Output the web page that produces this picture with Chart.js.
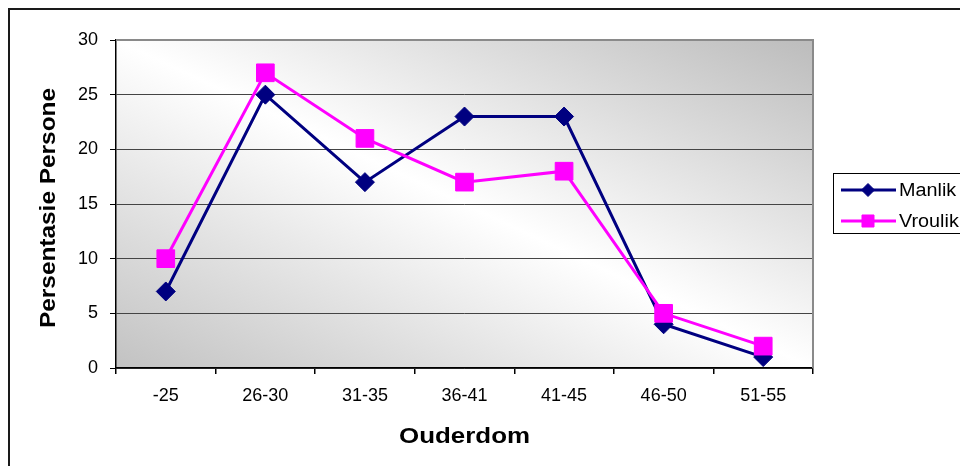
<!DOCTYPE html>
<html>
<head>
<meta charset="utf-8">
<script src="https://cdn.jsdelivr.net/npm/chart.js@4.4.1/dist/chart.umd.min.js"></script>
<style>
  html, body { margin: 0; padding: 0; background: #ffffff; }
  #wrap { width: 960px; height: 466px; position: relative; }
</style>
</head>
<body>
<div id="wrap"><canvas id="c" width="960" height="466"></canvas></div>
<script>
// Age groups and percentage of persons per group
const categories = ['-25', '26-30', '31-35', '36-41', '41-45', '46-50', '51-55'];
const manlik = [7, 25, 17, 23, 23, 4, 1];
const vroulik = [10, 27, 21, 17, 18, 5, 2];
const yTicks = [0, 5, 10, 15, 20, 25, 30];
const seriesNames = ['Manlik', 'Vroulik'];
const xTitle = 'Ouderdom';
const yTitle = 'Persentasie Persone';

const FONT = '"Liberation Sans", Arial, sans-serif';

// Plot background: diagonal grey-white-grey wash
const plotBackground = {
  id: 'plotBackground',
  beforeDraw(chart) {
    const { ctx, chartArea: a } = chart;
    const w = a.right - a.left, h = a.bottom - a.top;
    const cx = a.left + w / 2, cy = a.top + h / 2;
    const len = Math.hypot(w, h);
    const ux = h / len, uy = -w / len;
    const half = (w / 2) * ux + (-h / 2) * uy;
    const g = ctx.createLinearGradient(cx - half * ux, cy - half * uy, cx + half * ux, cy + half * uy);
    g.addColorStop(0, '#c2c2c2');
    g.addColorStop(0.5, '#ffffff');
    g.addColorStop(1, '#bcbcbc');
    ctx.save();
    ctx.fillStyle = g;
    ctx.fillRect(a.left, a.top, w, h);
    ctx.restore();
  },
  beforeDatasetsDraw(chart) {
    const { ctx, chartArea: a } = chart;
    ctx.save();
    ctx.strokeStyle = '#8a8a8a';
    ctx.lineWidth = 2;
    ctx.beginPath();
    ctx.moveTo(a.left, a.top);
    ctx.lineTo(a.right, a.top);
    ctx.lineTo(a.right, a.bottom);
    ctx.stroke();
    ctx.restore();
  }
};

// Axis titles, legend and outer frame
function stretchedText(ctx, text, x, y, width) {
  const m = ctx.measureText(text).width;
  ctx.save();
  ctx.translate(x, y);
  ctx.scale(width / m, 1);
  ctx.fillText(text, 0, 0);
  ctx.restore();
}

const decorations = {
  id: 'decorations',
  afterDraw(chart) {
    const { ctx, chartArea: a } = chart;
    ctx.save();
    ctx.fillStyle = '#000';
    ctx.font = 'bold 22px ' + FONT;
    ctx.textAlign = 'center';
    ctx.textBaseline = 'alphabetic';
    stretchedText(ctx, xTitle, (a.left + a.right) / 2, 443, 131);

    ctx.save();
    ctx.translate(55, (a.top + a.bottom) / 2 + 4);
    ctx.rotate(-Math.PI / 2);
    stretchedText(ctx, yTitle, 0, 0, 240);
    ctx.restore();

    // legend
    ctx.strokeStyle = '#000';
    ctx.lineWidth = 1;
    ctx.strokeRect(833.5, 173.5, 200, 60);
    ctx.font = '18px ' + FONT;
    ctx.textAlign = 'left';
    ctx.textBaseline = 'middle';
    const rows = [190, 221];
    chart.data.datasets.forEach((ds, i) => {
      const y = rows[i];
      ctx.strokeStyle = ds.borderColor;
      ctx.lineWidth = 3;
      ctx.beginPath();
      ctx.moveTo(841, y);
      ctx.lineTo(896, y);
      ctx.stroke();
      ctx.fillStyle = ds.backgroundColor;
      ctx.strokeStyle = ds.backgroundColor;
      ctx.lineWidth = 1;
      Chart.helpers.drawPoint(ctx, {
        pointStyle: ds.pointStyle,
        radius: ds.pointStyle === 'rect' ? 8.5 : 6.5,
        rotation: 0,
        borderWidth: 1
      }, 868, y);
      ctx.fillStyle = '#000';
      stretchedText(ctx, ds.label, 899, y + 1, ctx.measureText(ds.label).width * 1.1);
    });

    // outer frame
    ctx.strokeStyle = '#1a1a1a';
    ctx.lineWidth = 2;
    ctx.strokeRect(9, 9, 1000, 500);
    ctx.restore();
  }
};

new Chart(document.getElementById('c'), {
  type: 'line',
  data: {
    labels: categories,
    datasets: [
      {
        label: seriesNames[0],
        data: manlik,
        borderColor: '#000080',
        backgroundColor: '#000080',
        borderWidth: 3,
        pointStyle: 'rectRot',
        pointRadius: 9.5,
        pointBorderWidth: 1,
        pointBorderColor: '#000080',
        pointBackgroundColor: '#000080',
        tension: 0,
        order: 1
      },
      {
        label: seriesNames[1],
        data: vroulik,
        borderColor: '#ff00ff',
        backgroundColor: '#ff00ff',
        borderWidth: 3,
        pointStyle: 'rect',
        pointRadius: 12.5,
        pointBorderWidth: 1,
        pointBorderColor: '#ff00ff',
        pointBackgroundColor: '#ff00ff',
        tension: 0,
        order: 0
      }
    ]
  },
  options: {
    responsive: false,
    animation: false,
    devicePixelRatio: 1,
    layout: { padding: { left: 0, top: 40, right: 147, bottom: 0 } },
    plugins: {
      legend: { display: false },
      tooltip: { enabled: false },
      title: { display: false }
    },
    scales: {
      x: {
        type: 'category',
        offset: true,
        afterFit(scale) { scale.height = 98; },
        grid: {
          offset: true,
          drawOnChartArea: false,
          drawTicks: true,
          tickLength: 6,
          tickColor: '#000',
          lineWidth: 1.5
        },
        border: { display: true, color: '#000', width: 1.5 },
        ticks: {
          color: '#000',
          font: { family: FONT, size: 18 },
          padding: 11,
          maxRotation: 0,
          autoSkip: false
        }
      },
      y: {
        min: 0,
        max: 30,
        afterFit(scale) { scale.width = 116; },
        afterBuildTicks(scale) { scale.ticks = yTicks.map(v => ({ value: v })); },
        grid: {
          color: '#444',
          lineWidth: 1,
          drawTicks: true,
          tickLength: 6,
          tickColor: '#000'
        },
        border: { display: true, color: '#000', width: 1.5 },
        ticks: {
          color: '#000',
          font: { family: FONT, size: 18 },
          padding: 12
        }
      }
    }
  },
  plugins: [plotBackground, decorations]
});
</script>
</body>
</html>
